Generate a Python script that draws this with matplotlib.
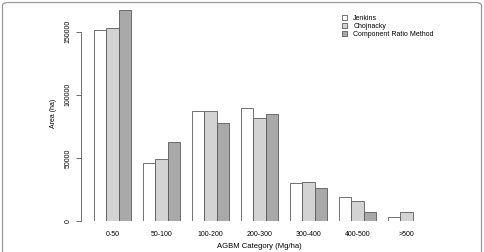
import matplotlib
matplotlib.use("Agg")
import matplotlib.pyplot as plt
from matplotlib.patches import FancyBboxPatch
import numpy as np

categories = ["0-50", "50-100", "100-200", "200-300", "300-400", "400-500", ">500"]
jenkins = [151300, 45700, 86800, 89300, 29800, 19200, 2900]
chojnacky = [152900, 48900, 86800, 81400, 31300, 16000, 6900]
crm = [167100, 62400, 77400, 84500, 25800, 7100, 300]
series_names = ["Jenkins", "Chojnacky", "Component Ratio Method"]
colors = ["#ffffff", "#d3d3d3", "#a9a9a9"]
yticks = [0, 50000, 100000, 150000]

W, H = 484, 252
fig = plt.figure(figsize=(W / 100, H / 100), dpi=100)
plt.rcParams['font.family'] = ['Liberation Sans', 'DejaVu Sans']

# rounded frame
frame = FancyBboxPatch((2.5 / W, -20 / H), (W - 5) / W, (H + 17.5) / H,
                       boxstyle="round,pad=0,rounding_size=0.012",
                       transform=fig.transFigure, fill=False,
                       edgecolor="#9a9a9a", linewidth=0.9)
fig.add_artist(frame)

left_px, right_px = 81, 438
bottom_px, top_px = 221, 6.5
ax = fig.add_axes([left_px / W, (H - bottom_px) / H, (right_px - left_px) / W, (bottom_px - top_px) / H])
ax.set_xlim(-0.08, 29.08)
ax.set_ylim(0, 170000)

series = [jenkins, chojnacky, crm]
n = len(categories)
for j, (vals, col, name) in enumerate(zip(series, colors, series_names)):
    xs = [1 + 4 * i + j for i in range(n)]
    ax.bar(xs, vals, width=1.0, align="edge", color=col, edgecolor="#5a5a5a",
           linewidth=0.6, label=name)

ax.set_xticks([1 + 4 * i + 1.5 for i in range(n)])
ax.set_xticklabels(categories, fontsize=5)
ax.tick_params(axis="x", length=0, pad=7)
ax.set_yticks(yticks)
ax.set_yticklabels([str(v) for v in yticks], rotation=90, va="center", fontsize=5)
ax.tick_params(axis="y", length=3.5, width=0.6, color="#555555", pad=3.5)
for s in ["top", "right", "bottom"]:
    ax.spines[s].set_visible(False)
ax.spines["left"].set_bounds(0, 150000)
ax.spines["left"].set_linewidth(0.6)
ax.spines["left"].set_color("#555555")

ax.set_ylabel("Area (ha)", fontsize=5, labelpad=5)
fig.text((left_px + right_px) / 2 / W, (H - 247) / H, "AGBM Category (Mg/ha)",
         ha="center", va="center", fontsize=5.5)

leg = ax.legend(loc="upper left", bbox_to_anchor=((337 - left_px) / (right_px - left_px), 0.985),
                frameon=False, fontsize=5, handlelength=0.75, handleheight=0.75,
                handletextpad=0.9, labelspacing=0.15, borderaxespad=0.3)

fig.savefig("out.png", dpi=100)
